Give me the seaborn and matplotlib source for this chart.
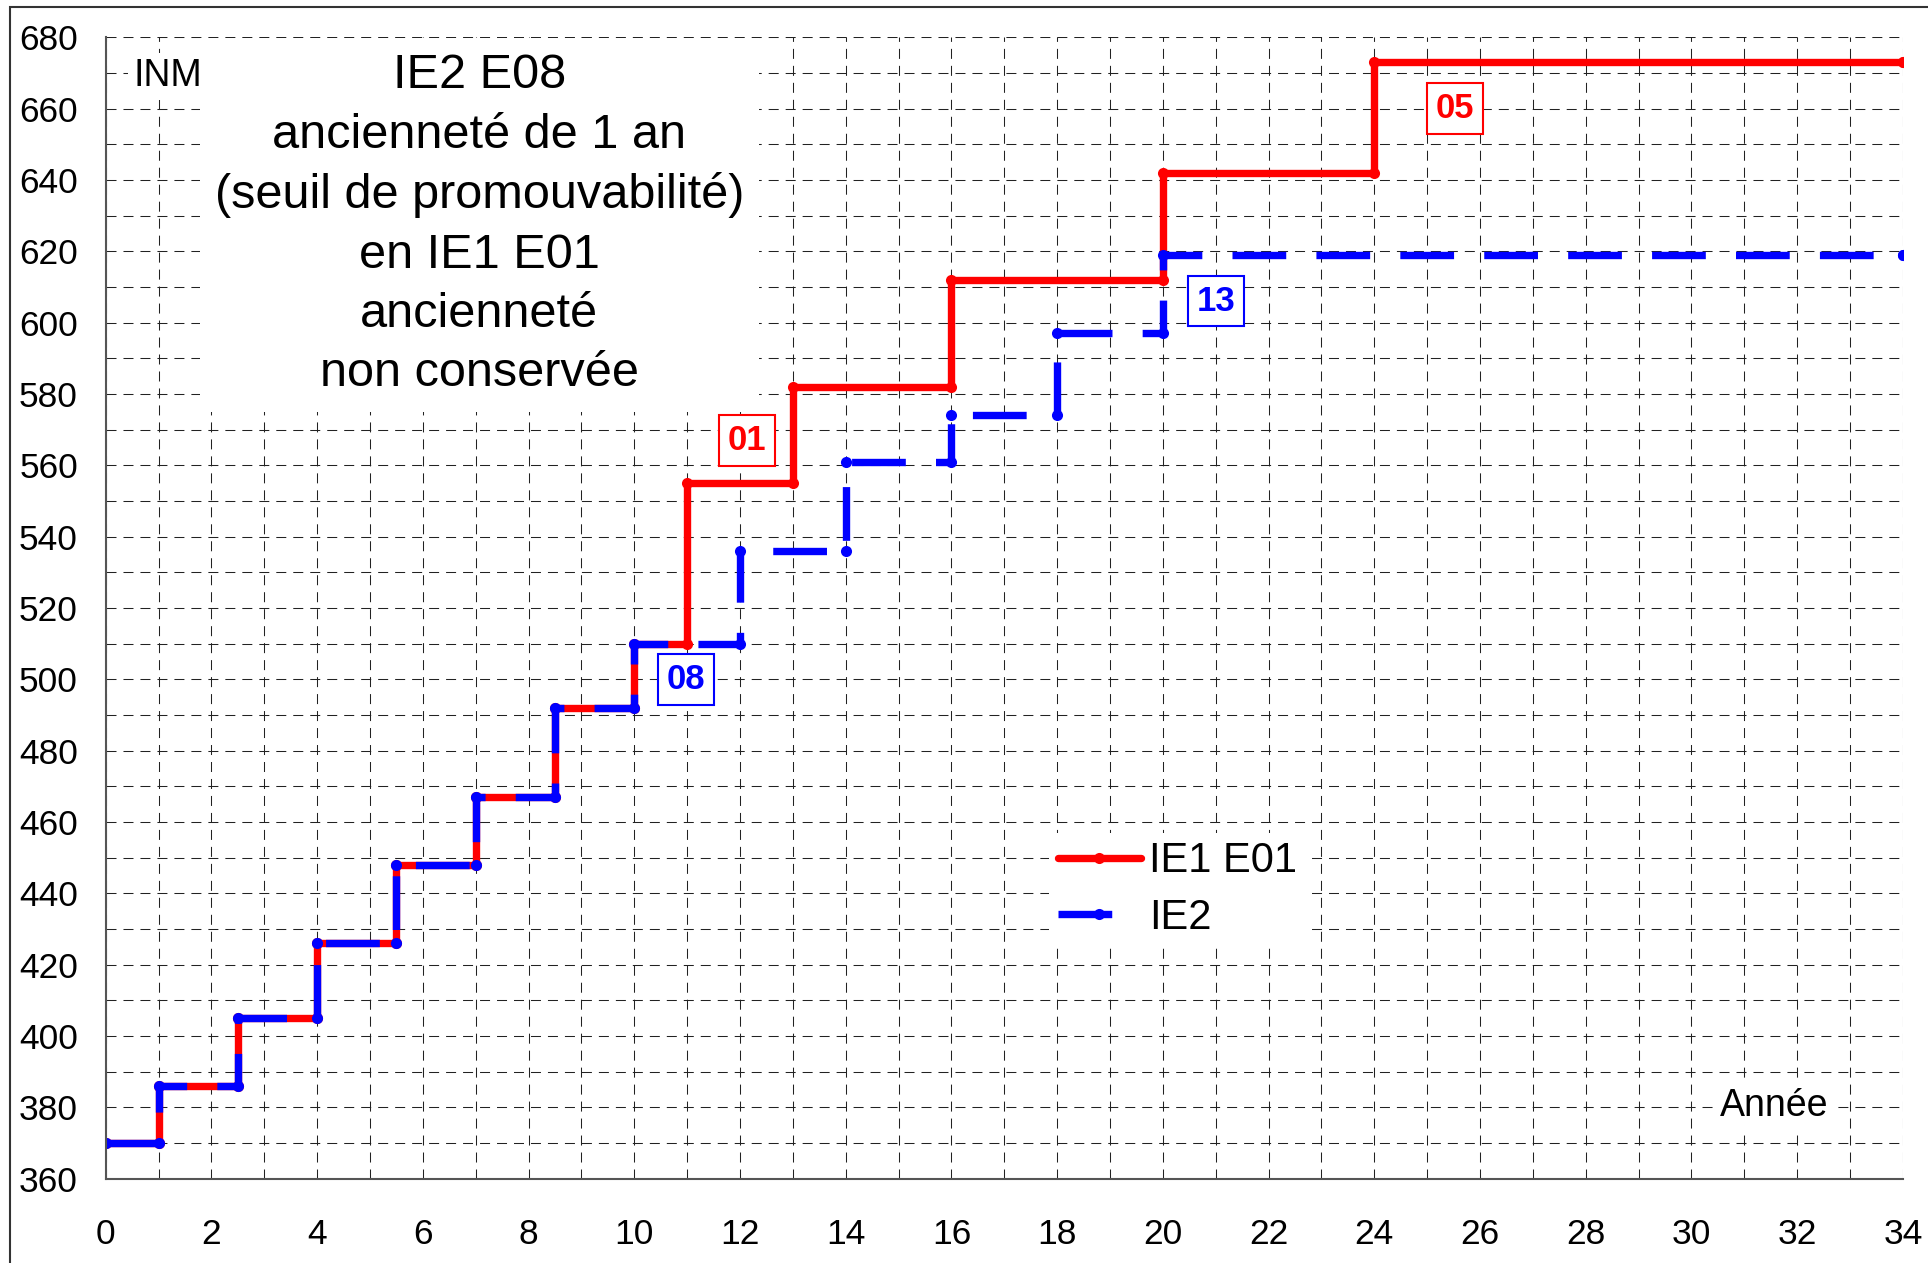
import matplotlib
matplotlib.use("Agg")
import matplotlib.pyplot as plt
from matplotlib.patches import Rectangle
from matplotlib.ticker import MultipleLocator
import numpy as np
import pandas as pd
import seaborn as sns

# Data: year where each step starts, and INM value from that year on
ie1_years = [0, 1, 2.5, 4, 5.5, 7, 8.5, 10, 11, 13, 16, 20, 24, 34]
ie1_inm = [370, 386, 405, 426, 448, 467, 492, 510, 555, 582, 612, 642, 673, 673]
ie2_years = [0, 1, 2.5, 4, 5.5, 7, 8.5, 10, 12, 14, 16, 18, 20, 34]
ie2_inm = [370, 386, 405, 426, 448, 467, 492, 510, 536, 561, 574, 597, 619, 619]

series_names = ["IE1 E01", "IE2"]
series_colors = {"IE1 E01": "#ff0000", "IE2": "#0000ff"}

# echelon labels: (text, year, inm, series)
echelon_labels = [("01", 12.13, 567, "IE1 E01"),
                  ("08", 10.97, 500, "IE2"),
                  ("13", 21.0, 606, "IE2"),
                  ("05", 25.53, 660, "IE1 E01")]

title_text = ("IE2 E08\nancienneté de 1 an\n(seuil de promouvabilité)\n"
              "en IE1 E01\nancienneté\nnon conservée")


def step_vertices(years, values):
    # turn step starts into the corners of a step line
    xs = np.repeat(years, 2)[1:]
    ys = np.repeat(values, 2)[:-1]
    return xs, ys


frames = []
for name, yrs, vals in [("IE1 E01", ie1_years, ie1_inm), ("IE2", ie2_years, ie2_inm)]:
    xs, ys = step_vertices(yrs, vals)
    frames.append(pd.DataFrame({"Année": xs, "INM": ys, "série": name}))
data = pd.concat(frames, ignore_index=True)

sns.set_theme(style="white")
plt.rcParams["font.family"] = ["Liberation Sans", "DejaVu Sans"]
plt.rcParams["text.color"] = "black"

fig = plt.figure(figsize=(19.28, 12.63), dpi=100)
ax = fig.add_axes([0.0548, 0.0667, 0.987 - 0.0548, 0.9705 - 0.0667])

sns.lineplot(
    data=data, x="Année", y="INM", hue="série", style="série",
    hue_order=series_names, style_order=series_names,
    palette=series_colors,
    dashes={"IE1 E01": "", "IE2": (7.3, 4.1)},
    markers={"IE1 E01": "o", "IE2": "o"},
    sort=False, estimator=None, linewidth=5.3, markersize=8, mew=0,
    ax=ax,
)

ax.set_xlim(0, 34)
ax.set_ylim(360, 680)
ax.xaxis.set_major_locator(MultipleLocator(2))
ax.xaxis.set_minor_locator(MultipleLocator(1))
ax.yaxis.set_major_locator(MultipleLocator(20))
ax.yaxis.set_minor_locator(MultipleLocator(10))
ax.grid(which="both", color="#222222", linewidth=0.75, linestyle=(0, (9.6, 6.7)))
ax.set_axisbelow(True)
ax.set_xlabel("")
ax.set_ylabel("")

for side in ["top", "right"]:
    ax.spines[side].set_visible(False)
for side in ["left", "bottom"]:
    ax.spines[side].set_color("#555555")
    ax.spines[side].set_linewidth(1.5)

ax.tick_params(axis="both", which="major", direction="out", length=8, width=1.5,
               color="#555555", labelsize=25.5, labelcolor="black")
ax.tick_params(axis="y", which="major", pad=12)
ax.tick_params(axis="x", which="major", pad=20)
ax.tick_params(which="minor", length=0)

# text blocks with white background hiding the grid
ax.text(7.07, 627.4, title_text, ha="center", va="center", fontsize=35,
        linespacing=1.41, multialignment="center", color="black",
        bbox=dict(facecolor="white", edgecolor="none", pad=11))
ax.text(1.17, 669, "INM", ha="center", va="center", fontsize=27, color="black",
        bbox=dict(facecolor="white", edgecolor="none", pad=4))
ax.text(31.56, 380.5, "Année", ha="center", va="center", fontsize=27, color="black",
        bbox=dict(facecolor="white", edgecolor="none", pad=4))

for label, x, y, serie in echelon_labels:
    col = series_colors[serie]
    ax.text(x, y, label, ha="center", va="center", fontsize=25, fontweight="bold",
            color=col,
            bbox=dict(boxstyle="square,pad=0.25", facecolor="white", edgecolor=col,
                      linewidth=1.5))

sns.move_legend(
    ax, loc="upper left", bbox_to_anchor=(0.525, 0.303), title=None,
    fontsize=30, frameon=True, framealpha=1, facecolor="white", edgecolor="none",
    handlelength=2.0, handletextpad=0.2, labelspacing=0.4, borderpad=0.2,
    borderaxespad=0, fancybox=False, labelcolor="black",
)

# thin frame around the picture (left and top edges are visible)
fig.add_artist(Rectangle((10 / 1928, -0.1), 1.2, 1.1 - 7 / 1263,
                         transform=fig.transFigure, fill=False,
                         edgecolor="#333333", linewidth=1.5))

fig.savefig("out.png", dpi=100, facecolor="white")
